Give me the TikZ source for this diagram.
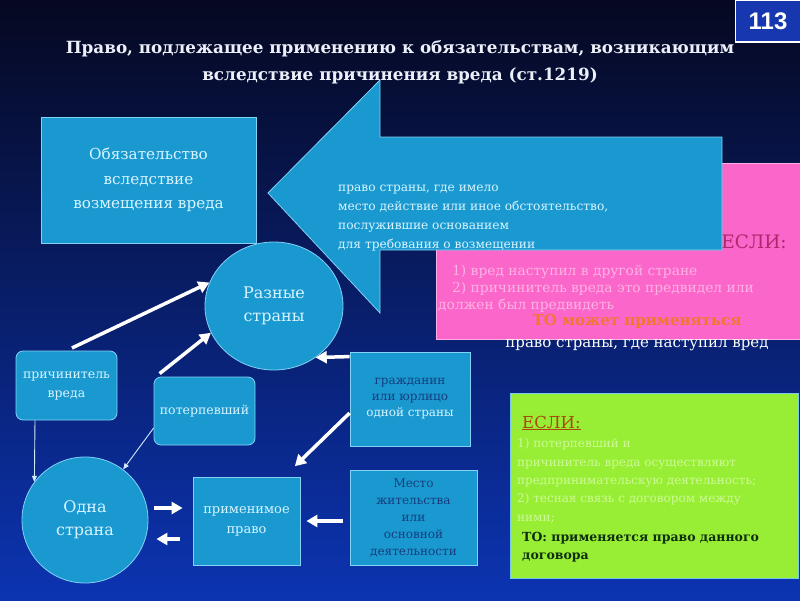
\documentclass[tikz,border=0pt]{standalone}
\usepackage{fontspec}
\setmainfont{DejaVu Serif}
\setsansfont{Liberation Sans}
\usetikzlibrary{shapes.geometric,arrows.meta,calc}
\definecolor{bgtop}{RGB}{5,8,32}
\definecolor{bgmid}{RGB}{10,32,125}
\definecolor{bgbot}{RGB}{12,52,178}
\definecolor{cyfill}{RGB}{26,152,208}
\definecolor{cyborder}{RGB}{130,210,245}
\definecolor{cytext}{RGB}{215,245,255}
\definecolor{darktext}{RGB}{22,62,125}
\definecolor{pinkfill}{RGB}{250,102,202}
\definecolor{pinkborder}{RGB}{255,175,225}
\definecolor{pinktext}{RGB}{255,178,228}
\definecolor{pinkesli}{RGB}{175,40,110}
\definecolor{tocolor}{RGB}{240,120,45}
\definecolor{greenfill}{RGB}{152,238,52}
\definecolor{greenborder}{RGB}{120,200,230}
\definecolor{greentext}{RGB}{205,250,150}
\definecolor{greenesli}{RGB}{170,72,10}
\definecolor{greento}{RGB}{15,45,15}
\definecolor{numfill}{RGB}{22,55,175}
\definecolor{thinarr}{RGB}{210,235,250}
\begin{document}
\begin{tikzpicture}[x=1pt,y=-1pt,
  cbox/.style={draw=cyborder, line width=0.8pt, fill=cyfill, text=cytext, align=center, inner sep=0pt},
  bigarrow/.style={draw=white, line width=3.5pt, -{Triangle[length=11pt,width=12pt]}},
  thinarrow/.style={draw=thinarr, line width=0.9pt, -{Triangle[length=6pt,width=5pt]}},
  lbl/.style={inner sep=0pt, anchor=base west},
  arrlbl/.style={lbl, text=cytext, font=\fontsize{12.2}{12.2}\selectfont},
  pinklbl/.style={lbl, text=pinktext, font=\fontsize{13.8}{13.8}\selectfont},
  greenlbl/.style={lbl, text=greentext, font=\fontsize{12}{12}\selectfont},
  tolbl/.style={lbl, text=greento, font=\bfseries\fontsize{12.5}{12.5}\selectfont}
]
\useasboundingbox (0,0) rectangle (800,600);
\shade[top color=bgtop, middle color=bgmid, bottom color=bgbot] (0,0) rectangle (800,600);

% number box
\node[draw=white, line width=1.2pt, fill=numfill, minimum width=65pt, minimum height=42pt, inner sep=0pt,
      text=white, font=\sffamily\bfseries\fontsize{24}{24}\selectfont] (num) at (768,21) {113};

% title
\node[text={rgb,255:red,236;green,240;blue,250}, align=center, font=\bfseries\fontsize{16.8}{27}\selectfont] (title) at (400,62)
  {Право, подлежащее применению к обязательствам, возникающим\\ вследствие причинения вреда (ст.1219)};

% pink box
\node[draw=pinkborder, line width=0.8pt, fill=pinkfill, minimum width=364pt, minimum height=176pt, inner sep=0pt] (pink) at (618,251) {};
\node[text=pinkesli, font=\fontsize{18.5}{18.5}\selectfont, inner sep=0pt] (esli1) at (754,242) {ЕСЛИ:};
\node[pinklbl] (p1) at (452,275) {1) вред наступил в другой стране};
\node[pinklbl] (p2) at (452,292) {2) причинитель вреда это предвидел или};
\node[pinklbl] (p3) at (438,309) {должен был предвидеть};
\node[text=tocolor, font=\bfseries\fontsize{15}{15}\selectfont, inner sep=0pt] (to1) at (637,321) {ТО может применяться};
\node[text=white, font=\fontsize{15}{15}\selectfont, inner sep=0pt] (pravo) at (637,345) {право страны, где наступил вред};

% big arrow
\draw[fill=cyfill, draw=cyborder, line width=0.8pt]
  (722,137) -- (380,137) -- (380,80) -- (268,193) -- (380,313) -- (380,250) -- (722,250) -- cycle;
\node[arrlbl] (a1) at (338,191) {право страны, где имело};
\node[arrlbl] (a2) at (338,210) {место действие или иное обстоятельство,};
\node[arrlbl] (a3) at (338,229) {послужившие основанием};
\node[arrlbl] (a4) at (338,248) {для требования о возмещении};

% boxes
\node[cbox, minimum width=215pt, minimum height=126pt, font=\fontsize{15.2}{24.5}\selectfont] (obl) at (148.5,180)
  {Обязательство\\ вследствие\\ возмещения вреда};
\node[cbox, ellipse, minimum width=138pt, minimum height=128pt, font=\fontsize{16}{23}\selectfont] (raz) at (274,306)
  {Разные\\ страны};
\node[cbox, rounded corners=7pt, minimum width=101pt, minimum height=69pt, font=\fontsize{12.5}{19}\selectfont] (prich) at (66.5,385.5)
  {причинитель\\ вреда};
\node[cbox, rounded corners=7pt, minimum width=101pt, minimum height=68pt, font=\fontsize{12.5}{19}\selectfont] (poter) at (204.5,411)
  {потерпевший};
\node[cbox, circle, minimum size=126pt, font=\fontsize{16}{23}\selectfont] (odna) at (85,520)
  {Одна\\ страна};
\node[cbox, minimum width=107pt, minimum height=88pt, font=\fontsize{13}{20}\selectfont] (prim) at (246.5,521)
  {применимое\\ право};
\node[cbox, minimum width=120pt, minimum height=94pt, font=\fontsize{12}{16}\selectfont] (grazh) at (410,399)
  {\textcolor{darktext}{гражданин}\\ \textcolor{darktext}{или юрлицо}\\ одной страны};
\node[cbox, text=darktext, minimum width=127pt, minimum height=95pt, font=\fontsize{12}{17}\selectfont] (mesto) at (413.5,517.5)
  {Место\\ жительства\\ или\\ основной\\ деятельности};

% connectors
\draw[bigarrow, shorten <=6pt] (prich.north) -- (raz.160);
\draw[bigarrow] ([xshift=6pt,yshift=3pt]poter.north west) -- (raz.203);
\draw[bigarrow] ([yshift=-5pt]grazh.north west) -- (raz.-51);
\draw[bigarrow, shorten >=2pt] ([yshift=-14pt]grazh.west) -- ([xshift=-7pt,yshift=9pt]prim.north east);
\draw[bigarrow, shorten <=7pt, shorten >=6pt] ([yshift=-3.5pt]mesto.west) -- (prim.east);
\draw[bigarrow] ([xshift=6pt,yshift=12pt]odna.east) -- ([xshift=-10pt,yshift=13pt]prim.west);
\draw[bigarrow] ([xshift=-13pt,yshift=-18pt]prim.west) -- ([xshift=8pt,yshift=-19pt]odna.east);
\draw[thinarrow] ([xshift=-31.5pt]prich.south) -- (odna.143);
\draw[thinarrow] ([yshift=-17pt]poter.west) -- (odna.53);

% green box
\node[draw=greenborder, line width=1pt, fill=greenfill, minimum width=288pt, minimum height=185pt, inner sep=0pt] (green) at (654,485.5) {};
\node[lbl, text=greenesli, font=\fontsize{16.5}{16.5}\selectfont] (esli2) at (522,428) {\underline{ЕСЛИ:}};
\node[greenlbl] (g1) at (517,447) {1) потерпевший и};
\node[greenlbl] (g2) at (517,466) {причинитель вреда осуществляют};
\node[greenlbl] (g3) at (517,484) {предпринимательскую деятельность;};
\node[greenlbl] (g4) at (517,502) {2) тесная связь с договором между};
\node[greenlbl] (g5) at (517,521) {ними;};
\node[tolbl] (gto1) at (522,541) {ТО: применяется право данного};
\node[tolbl] (gto2) at (522,559) {договора};
\end{tikzpicture}
\end{document}
